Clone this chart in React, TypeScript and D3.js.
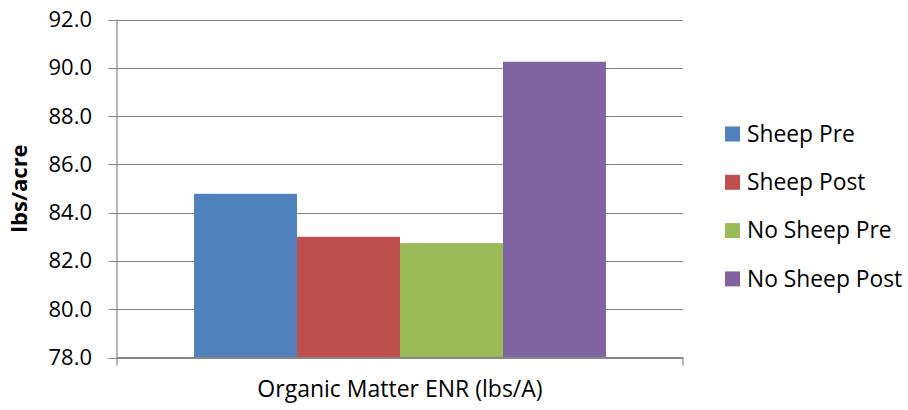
import React from "react";
import * as d3 from "d3";

// Organic matter ENR, one category, four series
const categories = ["Organic Matter ENR (lbs/A)"];
const seriesNames = ["Sheep Pre", "Sheep Post", "No Sheep Pre", "No Sheep Post"];
const seriesValues = [84.78, 83.0, 82.74, 90.25];
const seriesColors = ["#4F81BD", "#C0504D", "#9BBB59", "#8064A2"];
const yTicks = [78, 80, 82, 84, 86, 88, 90, 92];
const yTitle = "lbs/acre";

const W = 908;
const H = 410;
const FONT = "'Open Sans', 'Noto Sans', sans-serif";

export default function App() {
  const left = 117;
  const right = 683;
  const top = 19.5;
  const bottom = 357.5;

  const y = d3.scaleLinear().domain([78, 92]).range([bottom, top]);
  const x0 = d3.scaleBand().domain(categories).range([left, right]).paddingInner(0).paddingOuter(0.187);
  const x1 = d3.scaleBand().domain(seriesNames).range([0, x0.bandwidth()]).padding(0);

  const gridColor = "#868686";

  return (
    <svg width={W} height={H} style={{ position: "absolute", left: 0, top: 0, background: "#fff" }}>
      <rect x={0} y={0} width={W} height={H} fill="#fff" />
      {/* horizontal gridlines */}
      {yTicks.map((t) => (
        <line key={"g" + t} x1={left - 8.5} x2={right} y1={Math.round(y(t)) + 0.5} y2={Math.round(y(t)) + 0.5} stroke={gridColor} strokeWidth={1.2} />
      ))}
      {/* bars */}
      {categories.map((c) =>
        seriesNames.map((s, i) => (
          <rect
            key={c + s}
            x={(x0(c) ?? 0) + (x1(s) ?? 0)}
            y={y(seriesValues[i])}
            width={x1.bandwidth()}
            height={bottom - y(seriesValues[i])}
            fill={seriesColors[i]}
          />
        ))
      )}
      {/* axes */}
      <line x1={left} x2={left} y1={top} y2={bottom + 8} stroke={gridColor} strokeWidth={1.2} />
      <line x1={left} x2={right} y1={bottom} y2={bottom} stroke={gridColor} strokeWidth={1.2} />
      <line x1={right} x2={right} y1={bottom} y2={bottom + 8} stroke={gridColor} strokeWidth={1.2} />
      {/* y tick labels */}
      {yTicks.map((t) => (
        <text key={"t" + t} x={92} y={y(t) + 7.5} textAnchor="end" fontFamily={FONT} fontSize={22} fill="#000">
          {t.toFixed(1)}
        </text>
      ))}
      {/* y axis title */}
      <text
        transform={`translate(${27},${y(85)}) rotate(-90)`}
        textAnchor="middle"
        fontFamily={FONT}
        fontWeight="bold"
        fontSize={22}
        fill="#000"
      >
        {yTitle}
      </text>
      {/* category label */}
      {categories.map((c) => (
        <text key={"c" + c} x={(x0(c) ?? 0) + x0.bandwidth() / 2} y={397} textAnchor="middle" fontFamily={FONT} fontSize={23} fill="#000">
          {c}
        </text>
      ))}
      {/* legend */}
      {seriesNames.map((s, i) => {
        const cy = 134 + i * 48.3;
        return (
          <g key={"l" + s}>
            <rect x={725} y={cy - 7.5} width={15} height={15} fill={seriesColors[i]} />
            <text x={747} y={cy + 7.8} fontFamily={FONT} fontSize={22.8} fill="#000">
              {s}
            </text>
          </g>
        );
      })}
    </svg>
  );
}
